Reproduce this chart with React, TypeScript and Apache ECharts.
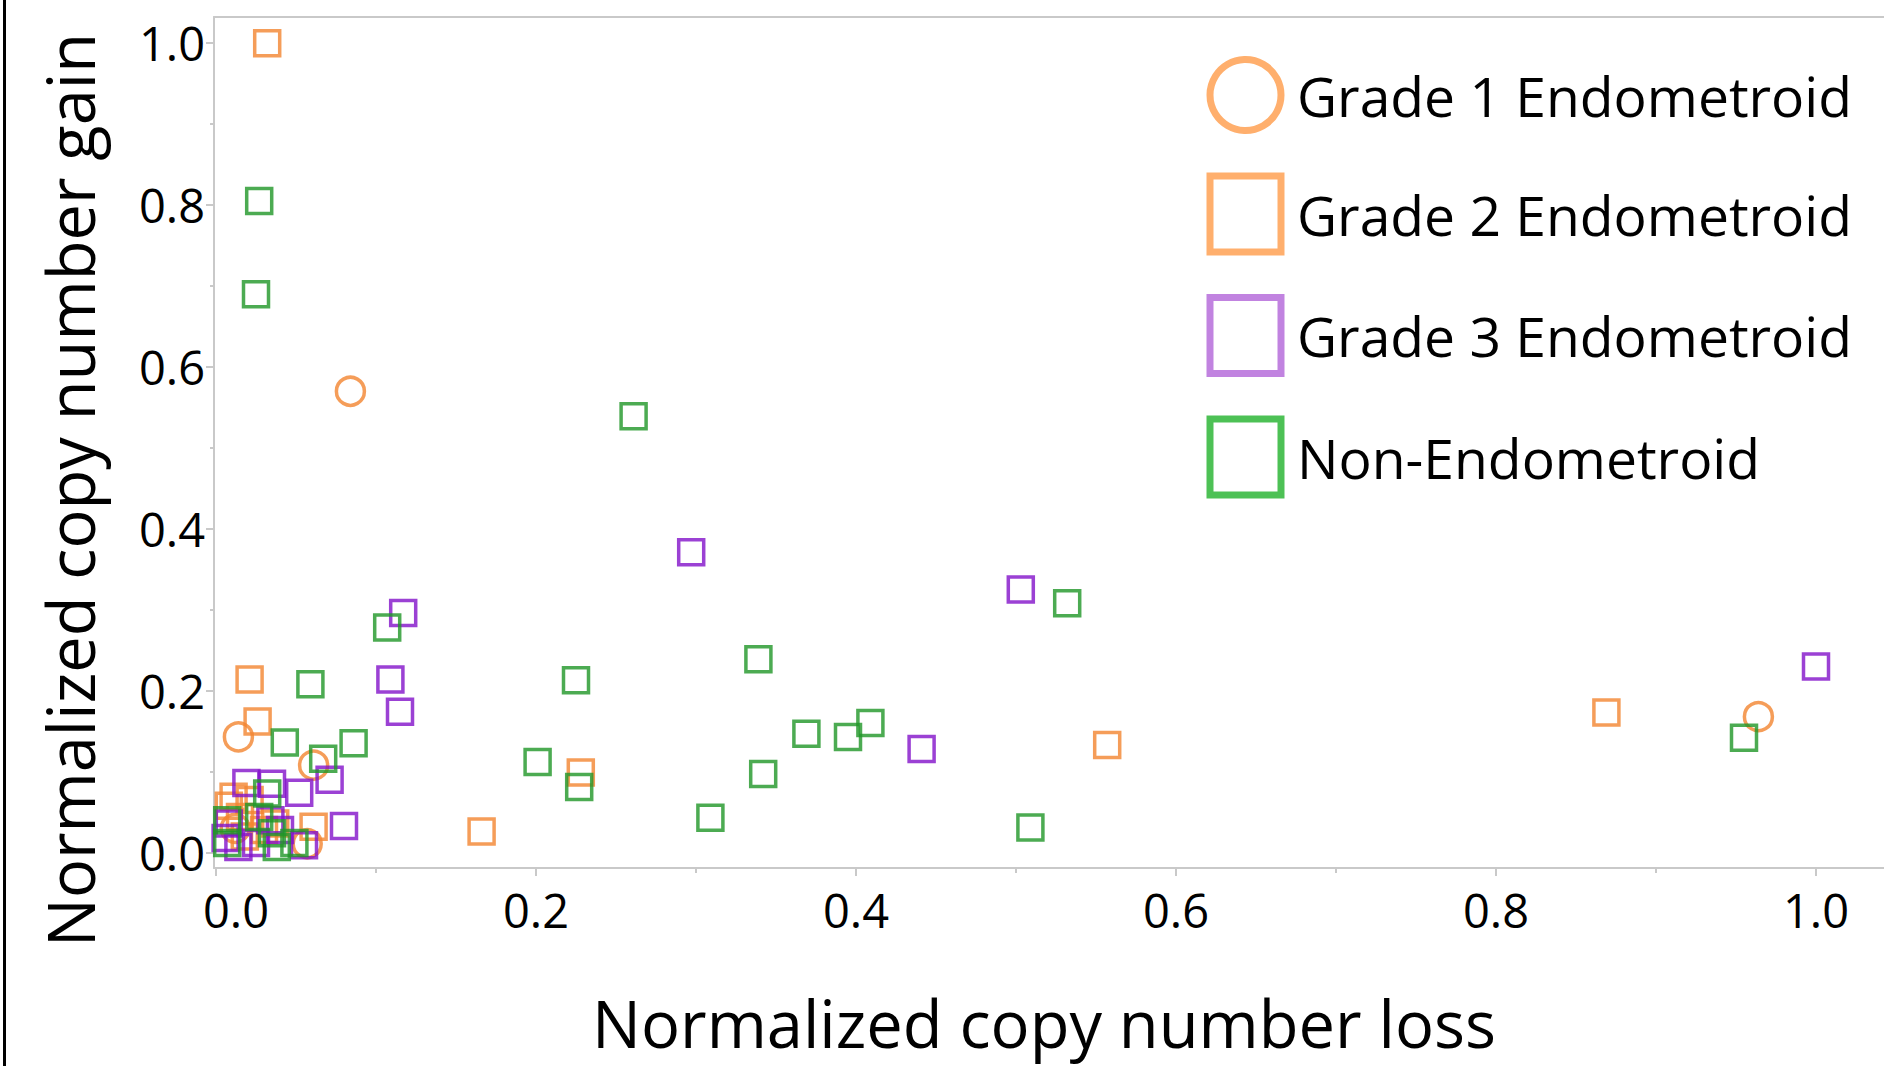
import React, { useEffect, useRef } from "react";
import * as echarts from "echarts";

// ---- data (x = normalized copy number loss, y = normalized copy number gain)
const seriesNames = ["Grade 1 Endometroid", "Grade 2 Endometroid", "Grade 3 Endometroid", "Non-Endometroid"];

const grade1Points = [
  [0.084, 0.570], [0.014, 0.143], [0.061, 0.108], [0.057, 0.011], [0.964, 0.168], [0.012, 0.030],
];

const grade2Points = [
  [0.032, 1.000], [0.021, 0.214], [0.026, 0.162], [0.061, 0.032], [0.166, 0.026], [0.228, 0.099],
  [0.557, 0.133], [0.869, 0.173], [0.011, 0.069], [0.021, 0.065], [0.015, 0.044], [0.030, 0.028],
  [0.018, 0.020], [0.037, 0.036], [0.008, 0.058],
];

const grade3Points = [
  [0.297, 0.371], [0.503, 0.325], [0.441, 0.128], [1.000, 0.230], [0.117, 0.296], [0.109, 0.214],
  [0.115, 0.174], [0.071, 0.090], [0.019, 0.086], [0.035, 0.085], [0.052, 0.074], [0.080, 0.033],
  [0.055, 0.009], [0.008, 0.036], [0.006, 0.018], [0.014, 0.007], [0.025, 0.012], [0.034, 0.040],
  [0.040, 0.028],
];

const nonEndoPoints = [
  [0.027, 0.805], [0.025, 0.690], [0.261, 0.539], [0.339, 0.239], [0.532, 0.308], [0.225, 0.213],
  [0.369, 0.147], [0.395, 0.143], [0.409, 0.160], [0.201, 0.112], [0.227, 0.081], [0.342, 0.097],
  [0.309, 0.043], [0.509, 0.031], [0.955, 0.142], [0.107, 0.278], [0.059, 0.208], [0.043, 0.136],
  [0.086, 0.135], [0.067, 0.116], [0.032, 0.073], [0.007, 0.040], [0.007, 0.012], [0.035, 0.024],
  [0.038, 0.007], [0.049, 0.012], [0.027, 0.044],
];

const majorTicks = [0, 0.2, 0.4, 0.6, 0.8, 1.0];
const minorTicks = [0.1, 0.3, 0.5, 0.7, 0.9];

const X_MIN = -0.00125;
const X_MAX = 1.0425;
const Y_MIN = -0.019;
const Y_MAX = 1.0324;

const markerColors = ["#F2852F", "#F2852F", "#8212C9", "#1F9627"];
const legendColors = ["#FF9B48", "#FF9B48", "#B264D8", "#21B22B"];
const markerShapes = ["circle", "rect", "rect", "rect"];

const FONT = "'Open Sans', 'Noto Sans', sans-serif";
const AXIS_GRAY = "#c9c9c9";

export default function App() {
  const ref = useRef<HTMLDivElement>(null);

  useEffect(() => {
    if (!ref.current) return;
    const chart = echarts.init(ref.current, null, { renderer: "svg" });
    const allData = [grade1Points, grade2Points, grade3Points, nonEndoPoints];

    const fmtY = (v: number) => v.toFixed(1);
    const fmtX = (v: number) => (v === 0 ? "{first|0.0}" : v.toFixed(1));

    const option: any = {
      animation: false,
      backgroundColor: "#ffffff",
      textStyle: { fontFamily: FONT },
      grid: { left: 214, right: 0, top: 17, bottom: 198, containLabel: false },
      legend: {
        orient: "vertical",
        left: 1206.5,
        top: 56,
        padding: 0,
        itemWidth: 71,
        itemHeight: 76,
        itemGap: 38.5,
        selectedMode: false,
        textStyle: { fontFamily: FONT, fontSize: 55.2, lineHeight: 76, color: "#000", padding: [0, 0, 0, 11] },
        data: seriesNames.map((n, i) => ({
          name: n,
          icon: markerShapes[i],
          itemStyle: { color: "rgba(255,255,255,0)", borderColor: legendColors[i], borderWidth: 7 },
        })),
      },
      xAxis: [
        {
          type: "value",
          min: X_MIN,
          max: X_MAX,
          position: "bottom",
          name: "Normalized copy number loss",
          nameLocation: "middle",
          nameGap: 128,
          nameTextStyle: { fontFamily: FONT, fontSize: 65, lineHeight: 54, color: "#000", padding: [0, 10, 0, 0] },
          axisLine: { show: true, onZero: false, lineStyle: { color: AXIS_GRAY, width: 2 } },
          axisTick: { show: true, length: 8, customValues: majorTicks, lineStyle: { color: AXIS_GRAY, width: 2 } },
          axisLabel: {
            customValues: majorTicks,
            formatter: fmtX,
            fontFamily: FONT,
            fontSize: 47,
            color: "#000",
            margin: 18,
            rich: {
              first: { fontFamily: FONT, fontSize: 47, color: "#000", padding: [0, 0, 0, 40] },
            },
          },
          splitLine: { show: false },
        },
        {
          type: "value",
          min: X_MIN,
          max: X_MAX,
          position: "bottom",
          axisLine: { show: false, onZero: false },
          axisTick: { show: true, length: 5, customValues: minorTicks, lineStyle: { color: AXIS_GRAY, width: 2 } },
          axisLabel: { show: false },
          splitLine: { show: false },
        },
        {
          type: "value",
          min: X_MIN,
          max: X_MAX,
          position: "top",
          axisLine: { show: true, onZero: false, lineStyle: { color: AXIS_GRAY, width: 2 } },
          axisTick: { show: false },
          axisLabel: { show: false },
          splitLine: { show: false },
        },
      ],
      yAxis: [
        {
          type: "value",
          min: Y_MIN,
          max: Y_MAX,
          position: "left",
          axisLine: { show: true, onZero: false, lineStyle: { color: AXIS_GRAY, width: 2 } },
          axisTick: { show: true, length: 8, customValues: majorTicks, lineStyle: { color: AXIS_GRAY, width: 2 } },
          axisLabel: {
            customValues: majorTicks,
            formatter: fmtY,
            fontFamily: FONT,
            fontSize: 47,
            color: "#000",
            margin: 9,
          },
          splitLine: { show: false },
        },
        {
          type: "value",
          min: Y_MIN,
          max: Y_MAX,
          position: "left",
          axisLine: { show: false, onZero: false },
          axisTick: { show: true, length: 4, customValues: minorTicks, lineStyle: { color: AXIS_GRAY, width: 2 } },
          axisLabel: { show: false },
          splitLine: { show: false },
        },
      ],
      graphic: [
        {
          type: "line",
          shape: { x1: 4.5, y1: 0, x2: 4.5, y2: 1066 },
          style: { stroke: "#000", lineWidth: 3 },
          silent: true,
        },
        {
          type: "text",
          x: 70,
          y: 490,
          rotation: Math.PI / 2,
          style: {
            text: "Normalized copy number gain",
            fontFamily: FONT,
            fontSize: 65,
            fill: "#000",
            align: "center",
            verticalAlign: "middle",
          },
          silent: true,
        },
      ],
      series: seriesNames.map((n, i) => ({
        name: n,
        type: "scatter",
        xAxisIndex: 0,
        yAxisIndex: 0,
        symbol: markerShapes[i],
        symbolSize: markerShapes[i] === "circle" ? 28 : 25,
        data: allData[i],
        itemStyle: { color: "rgba(255,255,255,0)", borderColor: markerColors[i], borderWidth: 3.5 },
        emphasis: { disabled: true },
      })),
    };

    chart.setOption(option);
    return () => chart.dispose();
  }, []);

  return (
    <div
      ref={ref}
      style={{ position: "fixed", left: 0, top: 0, width: 1884, height: 1066, background: "#fff" }}
    />
  );
}
